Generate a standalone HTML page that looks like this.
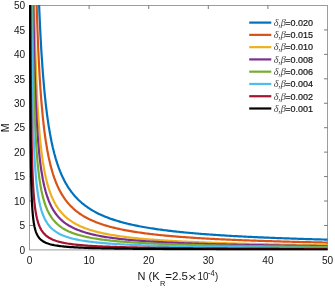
<!DOCTYPE html>
<html><head><meta charset="utf-8"><title>plot</title>
<style>
html,body{margin:0;padding:0;background:#fff;}
svg{display:block;}
text{font-family:"Liberation Sans",Arial,sans-serif;fill:#151515;}
.tk{font-size:10.1px;}
.lb{font-size:10.5px;}
.lg{font-size:9px;stroke:#151515;stroke-width:0.2px;}
.it{font-family:"Liberation Serif","DejaVu Serif",serif;font-style:italic;font-size:10.3px;fill:#4a4a4a;stroke:none;}
</style></head><body>
<svg width="335" height="288" viewBox="0 0 335 288">
<rect width="335" height="288" fill="#fff"/>
<defs><clipPath id="c"><rect x="29.0" y="5.0" width="299.0" height="245.5"/></clipPath></defs>

<rect x="29.5" y="5.5" width="298.0" height="244.4" fill="none" stroke="#9c9c9c" stroke-width="1"/>
<path d="M89.10 249.9v-3.5M89.10 5.5v3.5M148.70 249.9v-3.5M148.70 5.5v3.5M208.30 249.9v-3.5M208.30 5.5v3.5M267.90 249.9v-3.5M267.90 5.5v3.5M29.5 225.46h3.5M327.5 225.46h-3.5M29.5 201.02h3.5M327.5 201.02h-3.5M29.5 176.58h3.5M327.5 176.58h-3.5M29.5 152.14h3.5M327.5 152.14h-3.5M29.5 127.70h3.5M327.5 127.70h-3.5M29.5 103.26h3.5M327.5 103.26h-3.5M29.5 78.82h3.5M327.5 78.82h-3.5M29.5 54.38h3.5M327.5 54.38h-3.5M29.5 29.94h3.5M327.5 29.94h-3.5" stroke="#5a5a5a" stroke-width="0.8" fill="none"/>
<g clip-path="url(#c)" fill="none" stroke-linejoin="round">
<polyline points="37.45,-45.82 37.51,-43.36 37.58,-40.94 37.65,-38.55 37.72,-36.21 37.78,-33.90 37.85,-31.63 37.92,-29.40 37.99,-27.20 38.05,-25.04 38.12,-22.91 38.19,-20.82 38.25,-18.75 38.32,-16.72 38.39,-14.72 38.46,-12.75 38.52,-10.81 38.59,-8.89 38.66,-7.01 38.73,-5.15 38.79,-3.32 38.86,-1.52 38.93,0.26 39.00,2.02 39.06,3.74 39.13,5.45 39.20,7.13 39.26,8.79 39.33,10.42 39.40,12.03 39.47,13.62 39.53,15.19 39.60,16.74 39.67,18.27 39.74,19.78 39.80,21.27 39.87,22.73 39.94,24.18 40.01,25.62 40.07,27.03 40.14,28.42 40.21,29.80 40.28,31.16 40.34,32.51 40.41,33.83 40.48,35.14 40.54,36.44 40.61,37.72 40.68,38.98 40.75,40.23 40.81,41.46 40.88,42.68 40.95,43.89 41.02,45.08 41.08,46.25 41.15,47.42 41.22,48.56 41.29,49.70 41.35,50.83 41.42,51.94 42.86,72.98 44.30,89.93 45.73,103.88 47.17,115.56 48.61,125.49 50.05,134.02 51.48,141.44 52.92,147.95 54.36,153.70 55.80,158.83 57.23,163.42 58.67,167.56 60.11,171.31 61.55,174.73 62.98,177.85 64.42,180.72 65.86,183.36 67.30,185.79 68.73,188.05 70.17,190.15 71.61,192.11 73.05,193.94 74.48,195.65 75.92,197.25 77.36,198.76 78.80,200.18 80.23,201.52 81.67,202.78 83.11,203.98 84.55,205.12 85.99,206.20 87.42,207.22 88.86,208.19 90.30,209.12 91.74,210.01 93.17,210.85 94.61,211.66 96.05,212.43 97.49,213.18 98.92,213.89 100.36,214.57 101.80,215.22 103.24,215.85 104.67,216.45 106.11,217.03 107.55,217.60 108.99,218.14 110.42,218.66 111.86,219.16 113.30,219.64 114.74,220.11 116.17,220.57 117.61,221.01 119.05,221.43 120.49,221.84 121.92,222.24 123.36,222.63 124.80,223.00 126.24,223.36 127.68,223.72 129.11,224.06 130.55,224.39 131.99,224.72 133.43,225.03 134.86,225.34 136.30,225.63 137.74,225.92 139.18,226.21 140.61,226.48 142.05,226.75 143.49,227.01 144.93,227.26 146.36,227.51 147.80,227.76 149.24,227.99 150.68,228.22 152.11,228.45 153.55,228.67 154.99,228.88 156.43,229.09 157.86,229.30 159.30,229.50 160.74,229.70 162.18,229.89 163.61,230.08 165.05,230.26 166.49,230.44 167.93,230.62 169.37,230.79 170.80,230.96 172.24,231.13 173.68,231.29 175.12,231.45 176.55,231.61 177.99,231.76 179.43,231.91 180.87,232.06 182.30,232.20 183.74,232.35 185.18,232.49 186.62,232.62 188.05,232.76 189.49,232.89 190.93,233.02 192.37,233.15 193.80,233.27 195.24,233.39 196.68,233.52 198.12,233.63 199.55,233.75 200.99,233.87 202.43,233.98 203.87,234.09 205.31,234.20 206.74,234.31 208.18,234.41 209.62,234.52 211.06,234.62 212.49,234.72 213.93,234.82 215.37,234.92 216.81,235.01 218.24,235.11 219.68,235.20 221.12,235.29 222.56,235.38 223.99,235.47 225.43,235.56 226.87,235.65 228.31,235.73 229.74,235.82 231.18,235.90 232.62,235.98 234.06,236.06 235.49,236.14 236.93,236.22 238.37,236.30 239.81,236.37 241.24,236.45 242.68,236.52 244.12,236.60 245.56,236.67 247.00,236.74 248.43,236.81 249.87,236.88 251.31,236.95 252.75,237.02 254.18,237.08 255.62,237.15 257.06,237.21 258.50,237.28 259.93,237.34 261.37,237.40 262.81,237.47 264.25,237.53 265.68,237.59 267.12,237.65 268.56,237.71 270.00,237.77 271.43,237.82 272.87,237.88 274.31,237.94 275.75,237.99 277.18,238.05 278.62,238.10 280.06,238.15 281.50,238.21 282.93,238.26 284.37,238.31 285.81,238.36 287.25,238.41 288.69,238.46 290.12,238.51 291.56,238.56 293.00,238.61 294.44,238.66 295.87,238.71 297.31,238.75 298.75,238.80 300.19,238.85 301.62,238.89 303.06,238.94 304.50,238.98 305.94,239.03 307.37,239.07 308.81,239.11 310.25,239.15 311.69,239.20 313.12,239.24 314.56,239.28 316.00,239.32 317.44,239.36 318.87,239.40 320.31,239.44 321.75,239.48 323.19,239.52 324.62,239.56 326.06,239.60 327.50,239.64" stroke="#0072BD" stroke-width="2.2"/>
<polyline points="35.46,-44.85 35.56,-39.96 35.66,-35.23 35.76,-30.66 35.86,-26.23 35.97,-21.93 36.07,-17.77 36.17,-13.74 36.27,-9.83 36.37,-6.03 36.47,-2.34 36.57,1.24 36.67,4.72 36.77,8.11 36.87,11.40 36.98,14.60 37.08,17.72 37.18,20.76 37.28,23.71 37.38,26.59 37.48,29.40 37.58,32.14 37.68,34.81 37.78,37.42 37.88,39.96 37.99,42.44 38.09,44.86 38.19,47.23 38.29,49.54 38.39,51.80 38.49,54.01 38.59,56.17 38.69,58.29 38.79,60.35 38.89,62.37 39.00,64.35 39.10,66.29 39.20,68.19 39.30,70.05 39.40,71.87 39.50,73.65 39.60,75.40 39.70,77.11 39.80,78.79 39.90,80.44 40.01,82.05 40.11,83.64 40.21,85.19 40.31,86.72 40.41,88.22 40.51,89.69 40.61,91.13 40.71,92.55 40.81,93.94 40.91,95.31 41.02,96.65 41.12,97.97 41.22,99.27 41.32,100.54 41.42,101.79 42.86,117.58 44.30,130.29 45.73,140.75 47.17,149.51 48.61,156.96 50.05,163.36 51.48,168.92 52.92,173.80 54.36,178.12 55.80,181.96 57.23,185.41 58.67,188.51 60.11,191.33 61.55,193.89 62.98,196.23 64.42,198.38 65.86,200.36 67.30,202.19 68.73,203.88 70.17,205.46 71.61,206.92 73.05,208.29 74.48,209.58 75.92,210.78 77.36,211.91 78.80,212.98 80.23,213.98 81.67,214.93 83.11,215.83 84.55,216.68 85.99,217.49 87.42,218.26 88.86,218.99 90.30,219.68 91.74,220.35 93.17,220.98 94.61,221.59 96.05,222.17 97.49,222.72 98.92,223.26 100.36,223.77 101.80,224.26 103.24,224.73 104.67,225.18 106.11,225.62 107.55,226.04 108.99,226.44 110.42,226.83 111.86,227.21 113.30,227.57 114.74,227.93 116.17,228.27 117.61,228.60 119.05,228.91 120.49,229.22 121.92,229.52 123.36,229.81 124.80,230.09 126.24,230.36 127.68,230.63 129.11,230.89 130.55,231.14 131.99,231.38 133.43,231.61 134.86,231.84 136.30,232.07 137.74,232.28 139.18,232.50 140.61,232.70 142.05,232.90 143.49,233.10 144.93,233.29 146.36,233.48 147.80,233.66 149.24,233.84 150.68,234.01 152.11,234.18 153.55,234.34 154.99,234.50 156.43,234.66 157.86,234.82 159.30,234.97 160.74,235.11 162.18,235.26 163.61,235.40 165.05,235.54 166.49,235.67 167.93,235.81 169.37,235.94 170.80,236.06 172.24,236.19 173.68,236.31 175.12,236.43 176.55,236.55 177.99,236.66 179.43,236.78 180.87,236.89 182.30,236.99 183.74,237.10 185.18,237.21 186.62,237.31 188.05,237.41 189.49,237.51 190.93,237.61 192.37,237.70 193.80,237.80 195.24,237.89 196.68,237.98 198.12,238.07 199.55,238.15 200.99,238.24 202.43,238.33 203.87,238.41 205.31,238.49 206.74,238.57 208.18,238.65 209.62,238.73 211.06,238.81 212.49,238.88 213.93,238.96 215.37,239.03 216.81,239.10 218.24,239.17 219.68,239.24 221.12,239.31 222.56,239.38 223.99,239.45 225.43,239.51 226.87,239.58 228.31,239.64 229.74,239.70 231.18,239.77 232.62,239.83 234.06,239.89 235.49,239.95 236.93,240.01 238.37,240.06 239.81,240.12 241.24,240.18 242.68,240.23 244.12,240.29 245.56,240.34 247.00,240.40 248.43,240.45 249.87,240.50 251.31,240.55 252.75,240.60 254.18,240.65 255.62,240.70 257.06,240.75 258.50,240.80 259.93,240.85 261.37,240.90 262.81,240.94 264.25,240.99 265.68,241.03 267.12,241.08 268.56,241.12 270.00,241.17 271.43,241.21 272.87,241.25 274.31,241.29 275.75,241.34 277.18,241.38 278.62,241.42 280.06,241.46 281.50,241.50 282.93,241.54 284.37,241.58 285.81,241.61 287.25,241.65 288.69,241.69 290.12,241.73 291.56,241.76 293.00,241.80 294.44,241.84 295.87,241.87 297.31,241.91 298.75,241.94 300.19,241.98 301.62,242.01 303.06,242.04 304.50,242.08 305.94,242.11 307.37,242.14 308.81,242.18 310.25,242.21 311.69,242.24 313.12,242.27 314.56,242.30 316.00,242.33 317.44,242.36 318.87,242.39 320.31,242.42 321.75,242.45 323.19,242.48 324.62,242.51 326.06,242.54 327.50,242.57" stroke="#D95319" stroke-width="2.2"/>
<polyline points="33.47,-44.16 33.61,-34.55 33.74,-25.54 33.88,-17.09 34.01,-9.14 34.15,-1.66 34.28,5.41 34.42,12.08 34.55,18.40 34.69,24.40 34.82,30.09 34.95,35.49 35.09,40.64 35.22,45.55 35.36,50.23 35.49,54.70 35.63,58.97 35.76,63.06 35.90,66.98 36.03,70.73 36.17,74.33 36.30,77.80 36.44,81.12 36.57,84.32 36.71,87.40 36.84,90.37 36.98,93.23 37.11,95.99 37.24,98.65 37.38,101.22 37.51,103.71 37.65,106.11 37.78,108.44 37.92,110.69 38.05,112.87 38.19,114.98 38.32,117.03 38.46,119.02 38.59,120.94 38.73,122.81 38.86,124.63 39.00,126.40 39.13,128.11 39.26,129.78 39.40,131.41 39.53,132.99 39.67,134.53 39.80,136.02 39.94,137.48 40.07,138.90 40.21,140.29 40.34,141.64 40.48,142.96 40.61,144.25 40.75,145.50 40.88,146.73 41.02,147.93 41.15,149.10 41.29,150.24 41.42,151.36 42.86,161.88 44.30,170.36 45.73,177.33 47.17,183.17 48.61,188.13 50.05,192.40 51.48,196.11 52.92,199.36 54.36,202.24 55.80,204.80 57.23,207.10 58.67,209.17 60.11,211.05 61.55,212.75 62.98,214.32 64.42,215.75 65.86,217.07 67.30,218.29 68.73,219.42 70.17,220.47 71.61,221.44 73.05,222.36 74.48,223.21 75.92,224.02 77.36,224.77 78.80,225.48 80.23,226.15 81.67,226.78 83.11,227.38 84.55,227.95 85.99,228.49 87.42,229.00 88.86,229.49 90.30,229.95 91.74,230.39 93.17,230.82 94.61,231.22 96.05,231.61 97.49,231.98 98.92,232.33 100.36,232.67 101.80,233.00 103.24,233.31 104.67,233.62 106.11,233.91 107.55,234.19 108.99,234.46 110.42,234.72 111.86,234.97 113.30,235.21 114.74,235.45 116.17,235.67 117.61,235.89 119.05,236.11 120.49,236.31 121.92,236.51 123.36,236.70 124.80,236.89 126.24,237.07 127.68,237.25 129.11,237.42 130.55,237.59 131.99,237.75 133.43,237.91 134.86,238.06 136.30,238.21 137.74,238.35 139.18,238.49 140.61,238.63 142.05,238.76 143.49,238.89 144.93,239.02 146.36,239.15 147.80,239.27 149.24,239.39 150.68,239.50 152.11,239.61 153.55,239.72 154.99,239.83 156.43,239.94 157.86,240.04 159.30,240.14 160.74,240.24 162.18,240.33 163.61,240.43 165.05,240.52 166.49,240.61 167.93,240.70 169.37,240.79 170.80,240.87 172.24,240.95 173.68,241.04 175.12,241.12 176.55,241.19 177.99,241.27 179.43,241.35 180.87,241.42 182.30,241.49 183.74,241.56 185.18,241.63 186.62,241.70 188.05,241.77 189.49,241.83 190.93,241.90 192.37,241.96 193.80,242.03 195.24,242.09 196.68,242.15 198.12,242.21 199.55,242.27 200.99,242.32 202.43,242.38 203.87,242.43 205.31,242.49 206.74,242.54 208.18,242.60 209.62,242.65 211.06,242.70 212.49,242.75 213.93,242.80 215.37,242.85 216.81,242.90 218.24,242.94 219.68,242.99 221.12,243.04 222.56,243.08 223.99,243.13 225.43,243.17 226.87,243.21 228.31,243.26 229.74,243.30 231.18,243.34 232.62,243.38 234.06,243.42 235.49,243.46 236.93,243.50 238.37,243.54 239.81,243.58 241.24,243.61 242.68,243.65 244.12,243.69 245.56,243.72 247.00,243.76 248.43,243.80 249.87,243.83 251.31,243.86 252.75,243.90 254.18,243.93 255.62,243.96 257.06,244.00 258.50,244.03 259.93,244.06 261.37,244.09 262.81,244.12 264.25,244.15 265.68,244.18 267.12,244.21 268.56,244.24 270.00,244.27 271.43,244.30 272.87,244.33 274.31,244.36 275.75,244.39 277.18,244.41 278.62,244.44 280.06,244.47 281.50,244.49 282.93,244.52 284.37,244.55 285.81,244.57 287.25,244.60 288.69,244.62 290.12,244.65 291.56,244.67 293.00,244.70 294.44,244.72 295.87,244.74 297.31,244.77 298.75,244.79 300.19,244.81 301.62,244.84 303.06,244.86 304.50,244.88 305.94,244.90 307.37,244.92 308.81,244.95 310.25,244.97 311.69,244.99 313.12,245.01 314.56,245.03 316.00,245.05 317.44,245.07 318.87,245.09 320.31,245.11 321.75,245.13 323.19,245.15 324.62,245.17 326.06,245.19 327.50,245.21" stroke="#EDB120" stroke-width="2.2"/>
<polyline points="32.68,-44.06 32.83,-31.00 32.97,-19.06 33.12,-8.09 33.27,2.02 33.42,11.37 33.57,20.03 33.72,28.08 33.86,35.59 34.01,42.61 34.16,49.17 34.31,55.34 34.46,61.13 34.60,66.59 34.75,71.74 34.90,76.61 35.05,81.22 35.20,85.59 35.35,89.74 35.49,93.68 35.64,97.43 35.79,101.01 35.94,104.42 36.09,107.67 36.23,110.79 36.38,113.77 36.53,116.62 36.68,119.36 36.83,121.98 36.98,124.51 37.12,126.93 37.27,129.26 37.42,131.50 37.57,133.67 37.72,135.75 37.86,137.76 38.01,139.70 38.16,141.57 38.31,143.38 38.46,145.13 38.60,146.83 38.75,148.47 38.90,150.06 39.05,151.59 39.20,153.09 39.35,154.53 39.49,155.94 39.64,157.30 39.79,158.62 39.94,159.91 40.09,161.16 40.23,162.37 40.38,163.55 40.53,164.71 40.68,165.83 40.83,166.92 40.98,167.98 41.12,169.01 41.27,170.02 41.42,171.01 42.86,179.42 44.30,186.21 45.73,191.79 47.17,196.46 48.61,200.43 50.05,203.84 51.48,206.81 52.92,209.41 54.36,211.71 55.80,213.76 57.23,215.60 58.67,217.26 60.11,218.76 61.55,220.13 62.98,221.37 64.42,222.52 65.86,223.58 67.30,224.55 68.73,225.45 70.17,226.29 71.61,227.08 73.05,227.81 74.48,228.49 75.92,229.13 77.36,229.74 78.80,230.31 80.23,230.84 81.67,231.35 83.11,231.83 84.55,232.28 85.99,232.71 87.42,233.12 88.86,233.51 90.30,233.88 91.74,234.24 93.17,234.57 94.61,234.90 96.05,235.21 97.49,235.50 98.92,235.79 100.36,236.06 101.80,236.32 103.24,236.57 104.67,236.81 106.11,237.05 107.55,237.27 108.99,237.49 110.42,237.70 111.86,237.90 113.30,238.09 114.74,238.28 116.17,238.46 117.61,238.64 119.05,238.81 120.49,238.97 121.92,239.13 123.36,239.28 124.80,239.43 126.24,239.58 127.68,239.72 129.11,239.86 130.55,239.99 131.99,240.12 133.43,240.25 134.86,240.37 136.30,240.49 137.74,240.60 139.18,240.72 140.61,240.83 142.05,240.93 143.49,241.04 144.93,241.14 146.36,241.24 147.80,241.34 149.24,241.43 150.68,241.52 152.11,241.61 153.55,241.70 154.99,241.79 156.43,241.87 157.86,241.95 159.30,242.03 160.74,242.11 162.18,242.19 163.61,242.26 165.05,242.34 166.49,242.41 167.93,242.48 169.37,242.55 170.80,242.62 172.24,242.68 173.68,242.75 175.12,242.81 176.55,242.88 177.99,242.94 179.43,243.00 180.87,243.06 182.30,243.11 183.74,243.17 185.18,243.23 186.62,243.28 188.05,243.34 189.49,243.39 190.93,243.44 192.37,243.49 193.80,243.54 195.24,243.59 196.68,243.64 198.12,243.69 199.55,243.73 200.99,243.78 202.43,243.82 203.87,243.87 205.31,243.91 206.74,243.96 208.18,244.00 209.62,244.04 211.06,244.08 212.49,244.12 213.93,244.16 215.37,244.20 216.81,244.24 218.24,244.28 219.68,244.31 221.12,244.35 222.56,244.39 223.99,244.42 225.43,244.46 226.87,244.49 228.31,244.53 229.74,244.56 231.18,244.59 232.62,244.63 234.06,244.66 235.49,244.69 236.93,244.72 238.37,244.75 239.81,244.78 241.24,244.81 242.68,244.84 244.12,244.87 245.56,244.90 247.00,244.93 248.43,244.96 249.87,244.99 251.31,245.01 252.75,245.04 254.18,245.07 255.62,245.09 257.06,245.12 258.50,245.14 259.93,245.17 261.37,245.20 262.81,245.22 264.25,245.24 265.68,245.27 267.12,245.29 268.56,245.32 270.00,245.34 271.43,245.36 272.87,245.39 274.31,245.41 275.75,245.43 277.18,245.45 278.62,245.47 280.06,245.50 281.50,245.52 282.93,245.54 284.37,245.56 285.81,245.58 287.25,245.60 288.69,245.62 290.12,245.64 291.56,245.66 293.00,245.68 294.44,245.70 295.87,245.72 297.31,245.73 298.75,245.75 300.19,245.77 301.62,245.79 303.06,245.81 304.50,245.83 305.94,245.84 307.37,245.86 308.81,245.88 310.25,245.90 311.69,245.91 313.12,245.93 314.56,245.95 316.00,245.96 317.44,245.98 318.87,245.99 320.31,246.01 321.75,246.03 323.19,246.04 324.62,246.06 326.06,246.07 327.50,246.09" stroke="#7E2F8E" stroke-width="2.2"/>
<polyline points="31.88,-44.06 32.05,-25.44 32.21,-9.05 32.37,5.50 32.53,18.50 32.69,30.18 32.85,40.74 33.02,50.32 33.18,59.07 33.34,67.07 33.50,74.43 33.66,81.22 33.82,87.50 33.99,93.33 34.15,98.75 34.31,103.81 34.47,108.54 34.63,112.97 34.79,117.13 34.95,121.04 35.12,124.73 35.28,128.21 35.44,131.50 35.60,134.62 35.76,137.58 35.92,140.39 36.09,143.06 36.25,145.60 36.41,148.03 36.57,150.34 36.73,152.55 36.89,154.66 37.06,156.68 37.22,158.62 37.38,160.48 37.54,162.26 37.70,163.98 37.86,165.62 38.03,167.21 38.19,168.73 38.35,170.20 38.51,171.62 38.67,172.99 38.83,174.31 39.00,175.58 39.16,176.82 39.32,178.01 39.48,179.16 39.64,180.28 39.80,181.36 39.97,182.41 40.13,183.42 40.29,184.41 40.45,185.37 40.61,186.29 40.77,187.20 40.94,188.07 41.10,188.92 41.26,189.75 41.42,190.56 42.86,196.87 44.30,201.96 45.73,206.14 47.17,209.65 48.61,212.62 50.05,215.18 51.48,217.41 52.92,219.36 54.36,221.09 55.80,222.63 57.23,224.01 58.67,225.25 60.11,226.37 61.55,227.40 62.98,228.33 64.42,229.19 65.86,229.99 67.30,230.72 68.73,231.40 70.17,232.02 71.61,232.61 73.05,233.16 74.48,233.67 75.92,234.15 77.36,234.61 78.80,235.03 80.23,235.43 81.67,235.81 83.11,236.17 84.55,236.51 85.99,236.84 87.42,237.14 88.86,237.44 90.30,237.72 91.74,237.98 93.17,238.23 94.61,238.48 96.05,238.71 97.49,238.93 98.92,239.14 100.36,239.35 101.80,239.54 103.24,239.73 104.67,239.91 106.11,240.09 107.55,240.26 108.99,240.42 110.42,240.58 111.86,240.73 113.30,240.87 114.74,241.01 116.17,241.15 117.61,241.28 119.05,241.41 120.49,241.53 121.92,241.65 123.36,241.77 124.80,241.88 126.24,241.99 127.68,242.09 129.11,242.20 130.55,242.30 131.99,242.39 133.43,242.49 134.86,242.58 136.30,242.67 137.74,242.76 139.18,242.84 140.61,242.92 142.05,243.00 143.49,243.08 144.93,243.16 146.36,243.23 147.80,243.31 149.24,243.38 150.68,243.45 152.11,243.51 153.55,243.58 154.99,243.64 156.43,243.71 157.86,243.77 159.30,243.83 160.74,243.89 162.18,243.95 163.61,244.00 165.05,244.06 166.49,244.11 167.93,244.16 169.37,244.22 170.80,244.27 172.24,244.32 173.68,244.37 175.12,244.41 176.55,244.46 177.99,244.51 179.43,244.55 180.87,244.60 182.30,244.64 183.74,244.68 185.18,244.72 186.62,244.77 188.05,244.81 189.49,244.85 190.93,244.88 192.37,244.92 193.80,244.96 195.24,245.00 196.68,245.03 198.12,245.07 199.55,245.10 200.99,245.14 202.43,245.17 203.87,245.21 205.31,245.24 206.74,245.27 208.18,245.30 209.62,245.33 211.06,245.36 212.49,245.39 213.93,245.42 215.37,245.45 216.81,245.48 218.24,245.51 219.68,245.54 221.12,245.57 222.56,245.59 223.99,245.62 225.43,245.65 226.87,245.67 228.31,245.70 229.74,245.72 231.18,245.75 232.62,245.77 234.06,245.80 235.49,245.82 236.93,245.85 238.37,245.87 239.81,245.89 241.24,245.91 242.68,245.94 244.12,245.96 245.56,245.98 247.00,246.00 248.43,246.02 249.87,246.04 251.31,246.06 252.75,246.08 254.18,246.10 255.62,246.12 257.06,246.14 258.50,246.16 259.93,246.18 261.37,246.20 262.81,246.22 264.25,246.24 265.68,246.26 267.12,246.27 268.56,246.29 270.00,246.31 271.43,246.33 272.87,246.34 274.31,246.36 275.75,246.38 277.18,246.39 278.62,246.41 280.06,246.43 281.50,246.44 282.93,246.46 284.37,246.47 285.81,246.49 287.25,246.50 288.69,246.52 290.12,246.53 291.56,246.55 293.00,246.56 294.44,246.58 295.87,246.59 297.31,246.60 298.75,246.62 300.19,246.63 301.62,246.65 303.06,246.66 304.50,246.67 305.94,246.69 307.37,246.70 308.81,246.71 310.25,246.73 311.69,246.74 313.12,246.75 314.56,246.76 316.00,246.78 317.44,246.79 318.87,246.80 320.31,246.81 321.75,246.82 323.19,246.83 324.62,246.85 326.06,246.86 327.50,246.87" stroke="#77AC30" stroke-width="2.2"/>
<polyline points="31.09,-43.87 31.26,-14.76 31.44,9.08 31.61,28.98 31.79,45.84 31.96,60.30 32.14,72.84 32.32,83.83 32.49,93.52 32.67,102.15 32.84,109.87 33.02,116.82 33.19,123.11 33.37,128.83 33.54,134.05 33.72,138.85 33.89,143.25 34.07,147.33 34.24,151.10 34.42,154.60 34.59,157.86 34.77,160.90 34.94,163.75 35.12,166.42 35.29,168.93 35.47,171.29 35.64,173.52 35.82,175.62 35.99,177.61 36.17,179.50 36.34,181.29 36.52,182.99 36.69,184.60 36.87,186.14 37.04,187.61 37.22,189.01 37.39,190.35 37.57,191.64 37.74,192.86 37.92,194.04 38.09,195.17 38.27,196.25 38.44,197.29 38.62,198.29 38.79,199.26 38.97,200.18 39.14,201.08 39.32,201.94 39.49,202.77 39.67,203.57 39.84,204.35 40.02,205.10 40.19,205.83 40.37,206.53 40.54,207.21 40.72,207.87 40.89,208.50 41.07,209.12 41.24,209.72 41.42,210.31 42.86,214.52 44.30,217.91 45.73,220.70 47.17,223.03 48.61,225.02 50.05,226.72 51.48,228.21 52.92,229.51 54.36,230.66 55.80,231.69 57.23,232.60 58.67,233.43 60.11,234.18 61.55,234.87 62.98,235.49 64.42,236.06 65.86,236.59 67.30,237.08 68.73,237.53 70.17,237.95 71.61,238.34 73.05,238.71 74.48,239.05 75.92,239.37 77.36,239.67 78.80,239.96 80.23,240.22 81.67,240.48 83.11,240.72 84.55,240.94 85.99,241.16 87.42,241.36 88.86,241.56 90.30,241.74 91.74,241.92 93.17,242.09 94.61,242.25 96.05,242.41 97.49,242.56 98.92,242.70 100.36,242.83 101.80,242.96 103.24,243.09 104.67,243.21 106.11,243.33 107.55,243.44 108.99,243.55 110.42,243.65 111.86,243.75 113.30,243.85 114.74,243.94 116.17,244.03 117.61,244.12 119.05,244.21 120.49,244.29 121.92,244.37 123.36,244.45 124.80,244.52 126.24,244.59 127.68,244.66 129.11,244.73 130.55,244.80 131.99,244.86 133.43,244.93 134.86,244.99 136.30,245.05 137.74,245.10 139.18,245.16 140.61,245.22 142.05,245.27 143.49,245.32 144.93,245.37 146.36,245.42 147.80,245.47 149.24,245.52 150.68,245.56 152.11,245.61 153.55,245.65 154.99,245.70 156.43,245.74 157.86,245.78 159.30,245.82 160.74,245.86 162.18,245.90 163.61,245.94 165.05,245.97 166.49,246.01 167.93,246.04 169.37,246.08 170.80,246.11 172.24,246.15 173.68,246.18 175.12,246.21 176.55,246.24 177.99,246.27 179.43,246.30 180.87,246.33 182.30,246.36 183.74,246.39 185.18,246.42 186.62,246.44 188.05,246.47 189.49,246.50 190.93,246.52 192.37,246.55 193.80,246.57 195.24,246.60 196.68,246.62 198.12,246.65 199.55,246.67 200.99,246.69 202.43,246.72 203.87,246.74 205.31,246.76 206.74,246.78 208.18,246.80 209.62,246.82 211.06,246.84 212.49,246.86 213.93,246.88 215.37,246.90 216.81,246.92 218.24,246.94 219.68,246.96 221.12,246.98 222.56,247.00 223.99,247.01 225.43,247.03 226.87,247.05 228.31,247.07 229.74,247.08 231.18,247.10 232.62,247.12 234.06,247.13 235.49,247.15 236.93,247.16 238.37,247.18 239.81,247.19 241.24,247.21 242.68,247.22 244.12,247.24 245.56,247.25 247.00,247.27 248.43,247.28 249.87,247.30 251.31,247.31 252.75,247.32 254.18,247.34 255.62,247.35 257.06,247.36 258.50,247.38 259.93,247.39 261.37,247.40 262.81,247.41 264.25,247.43 265.68,247.44 267.12,247.45 268.56,247.46 270.00,247.47 271.43,247.48 272.87,247.50 274.31,247.51 275.75,247.52 277.18,247.53 278.62,247.54 280.06,247.55 281.50,247.56 282.93,247.57 284.37,247.58 285.81,247.59 287.25,247.60 288.69,247.61 290.12,247.62 291.56,247.63 293.00,247.64 294.44,247.65 295.87,247.66 297.31,247.67 298.75,247.68 300.19,247.69 301.62,247.70 303.06,247.71 304.50,247.72 305.94,247.73 307.37,247.73 308.81,247.74 310.25,247.75 311.69,247.76 313.12,247.77 314.56,247.78 316.00,247.78 317.44,247.79 318.87,247.80 320.31,247.81 321.75,247.82 323.19,247.82 324.62,247.83 326.06,247.84 327.50,247.85" stroke="#4DBEEE" stroke-width="2.2"/>
<polyline points="30.29,-43.62 30.48,12.62 30.67,50.76 30.86,78.33 31.05,99.19 31.24,115.52 31.43,128.65 31.61,139.44 31.80,148.47 31.99,156.12 32.18,162.70 32.37,168.42 32.56,173.43 32.75,177.86 32.93,181.80 33.12,185.33 33.31,188.51 33.50,191.39 33.69,194.02 33.88,196.41 34.07,198.61 34.25,200.64 34.44,202.51 34.63,204.24 34.82,205.85 35.01,207.35 35.20,208.75 35.39,210.06 35.57,211.29 35.76,212.44 35.95,213.53 36.14,214.56 36.33,215.53 36.52,216.44 36.71,217.31 36.89,218.14 37.08,218.92 37.27,219.67 37.46,220.38 37.65,221.05 37.84,221.70 38.03,222.32 38.21,222.91 38.40,223.48 38.59,224.02 38.78,224.54 38.97,225.04 39.16,225.52 39.35,225.98 39.53,226.43 39.72,226.86 39.91,227.27 40.10,227.67 40.29,228.05 40.48,228.42 40.67,228.78 40.85,229.13 41.04,229.46 41.23,229.79 41.42,230.10 42.86,232.21 44.30,233.90 45.73,235.30 47.17,236.47 48.61,237.46 50.05,238.31 51.48,239.05 52.92,239.70 54.36,240.28 55.80,240.79 57.23,241.25 58.67,241.67 60.11,242.04 61.55,242.38 62.98,242.70 64.42,242.98 65.86,243.25 67.30,243.49 68.73,243.72 70.17,243.93 71.61,244.12 73.05,244.30 74.48,244.47 75.92,244.64 77.36,244.79 78.80,244.93 80.23,245.06 81.67,245.19 83.11,245.31 84.55,245.42 85.99,245.53 87.42,245.63 88.86,245.73 90.30,245.82 91.74,245.91 93.17,246.00 94.61,246.08 96.05,246.15 97.49,246.23 98.92,246.30 100.36,246.37 101.80,246.43 103.24,246.49 104.67,246.56 106.11,246.61 107.55,246.67 108.99,246.72 110.42,246.78 111.86,246.83 113.30,246.87 114.74,246.92 116.17,246.97 117.61,247.01 119.05,247.05 120.49,247.09 121.92,247.13 123.36,247.17 124.80,247.21 126.24,247.25 127.68,247.28 129.11,247.32 130.55,247.35 131.99,247.38 133.43,247.41 134.86,247.44 136.30,247.47 137.74,247.50 139.18,247.53 140.61,247.56 142.05,247.58 143.49,247.61 144.93,247.64 146.36,247.66 147.80,247.69 149.24,247.71 150.68,247.73 152.11,247.75 153.55,247.78 154.99,247.80 156.43,247.82 157.86,247.84 159.30,247.86 160.74,247.88 162.18,247.90 163.61,247.92 165.05,247.94 166.49,247.95 167.93,247.97 169.37,247.99 170.80,248.01 172.24,248.02 173.68,248.04 175.12,248.06 176.55,248.07 177.99,248.09 179.43,248.10 180.87,248.12 182.30,248.13 183.74,248.14 185.18,248.16 186.62,248.17 188.05,248.19 189.49,248.20 190.93,248.21 192.37,248.22 193.80,248.24 195.24,248.25 196.68,248.26 198.12,248.27 199.55,248.29 200.99,248.30 202.43,248.31 203.87,248.32 205.31,248.33 206.74,248.34 208.18,248.35 209.62,248.36 211.06,248.37 212.49,248.38 213.93,248.39 215.37,248.40 216.81,248.41 218.24,248.42 219.68,248.43 221.12,248.44 222.56,248.45 223.99,248.46 225.43,248.47 226.87,248.47 228.31,248.48 229.74,248.49 231.18,248.50 232.62,248.51 234.06,248.52 235.49,248.52 236.93,248.53 238.37,248.54 239.81,248.55 241.24,248.55 242.68,248.56 244.12,248.57 245.56,248.58 247.00,248.58 248.43,248.59 249.87,248.60 251.31,248.60 252.75,248.61 254.18,248.62 255.62,248.62 257.06,248.63 258.50,248.64 259.93,248.64 261.37,248.65 262.81,248.66 264.25,248.66 265.68,248.67 267.12,248.67 268.56,248.68 270.00,248.69 271.43,248.69 272.87,248.70 274.31,248.70 275.75,248.71 277.18,248.71 278.62,248.72 280.06,248.73 281.50,248.73 282.93,248.74 284.37,248.74 285.81,248.75 287.25,248.75 288.69,248.76 290.12,248.76 291.56,248.77 293.00,248.77 294.44,248.78 295.87,248.78 297.31,248.79 298.75,248.79 300.19,248.79 301.62,248.80 303.06,248.80 304.50,248.81 305.94,248.81 307.37,248.82 308.81,248.82 310.25,248.83 311.69,248.83 313.12,248.83 314.56,248.84 316.00,248.84 317.44,248.85 318.87,248.85 320.31,248.85 321.75,248.86 323.19,248.86 324.62,248.87 326.06,248.87 327.50,248.87" stroke="#A2142F" stroke-width="2.2"/>
<polyline points="29.90,-43.38 30.09,53.27 30.29,102.01 30.48,131.38 30.68,151.02 30.87,165.08 31.07,175.64 31.26,183.86 31.46,190.44 31.66,195.83 31.85,200.32 32.05,204.12 32.24,207.39 32.44,210.21 32.63,212.69 32.83,214.87 33.02,216.81 33.22,218.55 33.41,220.12 33.61,221.53 33.80,222.82 34.00,224.00 34.19,225.07 34.39,226.07 34.58,226.98 34.78,227.83 34.98,228.62 35.17,229.35 35.37,230.03 35.56,230.67 35.76,231.27 35.95,231.84 36.15,232.37 36.34,232.87 36.54,233.34 36.73,233.79 36.93,234.21 37.12,234.61 37.32,235.00 37.51,235.36 37.71,235.71 37.90,236.03 38.10,236.35 38.30,236.65 38.49,236.94 38.69,237.21 38.88,237.48 39.08,237.73 39.27,237.97 39.47,238.21 39.66,238.43 39.86,238.65 40.05,238.86 40.25,239.06 40.44,239.25 40.64,239.44 40.83,239.62 41.03,239.79 41.22,239.96 41.42,240.12 42.86,241.18 44.30,242.02 45.73,242.72 47.17,243.31 48.61,243.80 50.05,244.23 51.48,244.60 52.92,244.92 54.36,245.21 55.80,245.47 57.23,245.70 58.67,245.91 60.11,246.09 61.55,246.26 62.98,246.42 64.42,246.56 65.86,246.70 67.30,246.82 68.73,246.93 70.17,247.03 71.61,247.13 73.05,247.22 74.48,247.31 75.92,247.39 77.36,247.47 78.80,247.54 80.23,247.60 81.67,247.67 83.11,247.73 84.55,247.78 85.99,247.84 87.42,247.89 88.86,247.94 90.30,247.98 91.74,248.03 93.17,248.07 94.61,248.11 96.05,248.15 97.49,248.19 98.92,248.22 100.36,248.26 101.80,248.29 103.24,248.32 104.67,248.35 106.11,248.38 107.55,248.41 108.99,248.43 110.42,248.46 111.86,248.49 113.30,248.51 114.74,248.53 116.17,248.56 117.61,248.58 119.05,248.60 120.49,248.62 121.92,248.64 123.36,248.66 124.80,248.68 126.24,248.70 127.68,248.71 129.11,248.73 130.55,248.75 131.99,248.76 133.43,248.78 134.86,248.79 136.30,248.81 137.74,248.82 139.18,248.84 140.61,248.85 142.05,248.86 143.49,248.88 144.93,248.89 146.36,248.90 147.80,248.91 149.24,248.93 150.68,248.94 152.11,248.95 153.55,248.96 154.99,248.97 156.43,248.98 157.86,248.99 159.30,249.00 160.74,249.01 162.18,249.02 163.61,249.03 165.05,249.04 166.49,249.05 167.93,249.06 169.37,249.07 170.80,249.08 172.24,249.08 173.68,249.09 175.12,249.10 176.55,249.11 177.99,249.12 179.43,249.12 180.87,249.13 182.30,249.14 183.74,249.14 185.18,249.15 186.62,249.16 188.05,249.17 189.49,249.17 190.93,249.18 192.37,249.18 193.80,249.19 195.24,249.20 196.68,249.20 198.12,249.21 199.55,249.21 200.99,249.22 202.43,249.23 203.87,249.23 205.31,249.24 206.74,249.24 208.18,249.25 209.62,249.25 211.06,249.26 212.49,249.26 213.93,249.27 215.37,249.27 216.81,249.28 218.24,249.28 219.68,249.29 221.12,249.29 222.56,249.30 223.99,249.30 225.43,249.31 226.87,249.31 228.31,249.31 229.74,249.32 231.18,249.32 232.62,249.33 234.06,249.33 235.49,249.33 236.93,249.34 238.37,249.34 239.81,249.35 241.24,249.35 242.68,249.35 244.12,249.36 245.56,249.36 247.00,249.36 248.43,249.37 249.87,249.37 251.31,249.37 252.75,249.38 254.18,249.38 255.62,249.38 257.06,249.39 258.50,249.39 259.93,249.39 261.37,249.40 262.81,249.40 264.25,249.40 265.68,249.41 267.12,249.41 268.56,249.41 270.00,249.42 271.43,249.42 272.87,249.42 274.31,249.42 275.75,249.43 277.18,249.43 278.62,249.43 280.06,249.43 281.50,249.44 282.93,249.44 284.37,249.44 285.81,249.45 287.25,249.45 288.69,249.45 290.12,249.45 291.56,249.46 293.00,249.46 294.44,249.46 295.87,249.46 297.31,249.46 298.75,249.47 300.19,249.47 301.62,249.47 303.06,249.47 304.50,249.48 305.94,249.48 307.37,249.48 308.81,249.48 310.25,249.48 311.69,249.49 313.12,249.49 314.56,249.49 316.00,249.49 317.44,249.50 318.87,249.50 320.31,249.50 321.75,249.50 323.19,249.50 324.62,249.51 326.06,249.51 327.50,249.51" stroke="#000000" stroke-width="2.2"/>
</g>
<text class="tk" x="29.50" y="264.4" text-anchor="middle">0</text>
<text class="tk" x="89.10" y="264.4" text-anchor="middle">10</text>
<text class="tk" x="148.70" y="264.4" text-anchor="middle">20</text>
<text class="tk" x="208.30" y="264.4" text-anchor="middle">30</text>
<text class="tk" x="267.90" y="264.4" text-anchor="middle">40</text>
<text class="tk" x="327.50" y="264.4" text-anchor="middle">50</text>
<text class="tk" x="25.2" y="253.65" text-anchor="end">0</text>
<text class="tk" x="25.2" y="229.21" text-anchor="end">5</text>
<text class="tk" x="25.2" y="204.77" text-anchor="end">10</text>
<text class="tk" x="25.2" y="180.33" text-anchor="end">15</text>
<text class="tk" x="25.2" y="155.89" text-anchor="end">20</text>
<text class="tk" x="25.2" y="131.45" text-anchor="end">25</text>
<text class="tk" x="25.2" y="107.01" text-anchor="end">30</text>
<text class="tk" x="25.2" y="82.57" text-anchor="end">35</text>
<text class="tk" x="25.2" y="58.13" text-anchor="end">40</text>
<text class="tk" x="25.2" y="33.69" text-anchor="end">45</text>
<text class="tk" x="25.2" y="9.25" text-anchor="end">50</text>
<text x="137.6" y="280.35" font-size="10.5px" textLength="22.00" lengthAdjust="spacingAndGlyphs">N (K</text>
<text x="159.9" y="285.5" font-size="8px" textLength="5.40" lengthAdjust="spacingAndGlyphs">R</text>
<text x="165.3" y="280.35" font-size="10.5px" textLength="22.70" lengthAdjust="spacingAndGlyphs">=2.5</text>
<text x="188.0" y="280.55" font-size="11px" textLength="8.60" lengthAdjust="spacingAndGlyphs" fill="#777">×</text>
<text x="197.6" y="280.35" font-size="10.5px" textLength="11.00" lengthAdjust="spacingAndGlyphs">10</text>
<text x="208.0" y="276.1" font-size="8.5px" textLength="6.60" lengthAdjust="spacingAndGlyphs">-4</text>
<text x="215.0" y="280.35" font-size="10.5px" textLength="3.20" lengthAdjust="spacingAndGlyphs">)</text>
<text class="lb" transform="translate(8.9,127.8) rotate(-90)" text-anchor="middle">M</text>
<line x1="249.2" x2="271.3" y1="22.60" y2="22.60" stroke="#0072BD" stroke-width="2.2"/>
<text class="lg" x="273.8" y="25.90"><tspan class="it" x="273.7">δ</tspan><tspan class="it" x="278.3">,</tspan><tspan class="it" x="280.7">β</tspan><tspan x="285.3">=</tspan><tspan x="290.6">0.020</tspan></text>
<line x1="249.2" x2="271.3" y1="34.87" y2="34.87" stroke="#D95319" stroke-width="2.2"/>
<text class="lg" x="273.8" y="38.17"><tspan class="it" x="273.7">δ</tspan><tspan class="it" x="278.3">,</tspan><tspan class="it" x="280.7">β</tspan><tspan x="285.3">=</tspan><tspan x="290.6">0.015</tspan></text>
<line x1="249.2" x2="271.3" y1="47.14" y2="47.14" stroke="#EDB120" stroke-width="2.2"/>
<text class="lg" x="273.8" y="50.44"><tspan class="it" x="273.7">δ</tspan><tspan class="it" x="278.3">,</tspan><tspan class="it" x="280.7">β</tspan><tspan x="285.3">=</tspan><tspan x="290.6">0.010</tspan></text>
<line x1="249.2" x2="271.3" y1="59.41" y2="59.41" stroke="#7E2F8E" stroke-width="2.2"/>
<text class="lg" x="273.8" y="62.71"><tspan class="it" x="273.7">δ</tspan><tspan class="it" x="278.3">,</tspan><tspan class="it" x="280.7">β</tspan><tspan x="285.3">=</tspan><tspan x="290.6">0.008</tspan></text>
<line x1="249.2" x2="271.3" y1="71.68" y2="71.68" stroke="#77AC30" stroke-width="2.2"/>
<text class="lg" x="273.8" y="74.98"><tspan class="it" x="273.7">δ</tspan><tspan class="it" x="278.3">,</tspan><tspan class="it" x="280.7">β</tspan><tspan x="285.3">=</tspan><tspan x="290.6">0.006</tspan></text>
<line x1="249.2" x2="271.3" y1="83.95" y2="83.95" stroke="#4DBEEE" stroke-width="2.2"/>
<text class="lg" x="273.8" y="87.25"><tspan class="it" x="273.7">δ</tspan><tspan class="it" x="278.3">,</tspan><tspan class="it" x="280.7">β</tspan><tspan x="285.3">=</tspan><tspan x="290.6">0.004</tspan></text>
<line x1="249.2" x2="271.3" y1="96.22" y2="96.22" stroke="#A2142F" stroke-width="2.2"/>
<text class="lg" x="273.8" y="99.52"><tspan class="it" x="273.7">δ</tspan><tspan class="it" x="278.3">,</tspan><tspan class="it" x="280.7">β</tspan><tspan x="285.3">=</tspan><tspan x="290.6">0.002</tspan></text>
<line x1="249.2" x2="271.3" y1="108.49" y2="108.49" stroke="#000000" stroke-width="2.2"/>
<text class="lg" x="273.8" y="111.79"><tspan class="it" x="273.7">δ</tspan><tspan class="it" x="278.3">,</tspan><tspan class="it" x="280.7">β</tspan><tspan x="285.3">=</tspan><tspan x="290.6">0.001</tspan></text>
</svg></body></html>
